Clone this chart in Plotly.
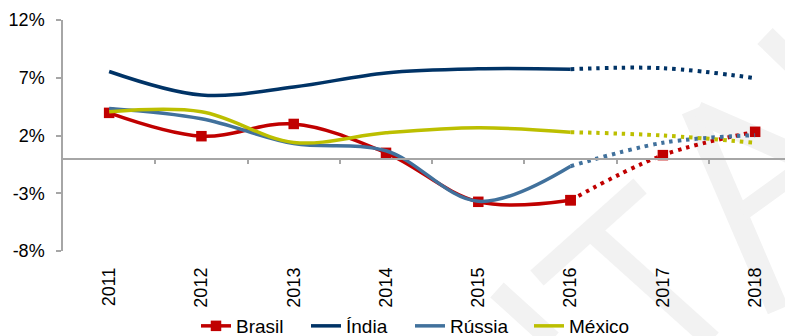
import plotly.graph_objects as go

years = ["2011", "2012", "2013", "2014", "2015", "2016", "2017", "2018"]
brasil = [3.96, 1.94, 3.0, 0.5, -3.74, -3.6, 0.3, 2.32]
india = [7.54, 5.5, 6.2, 7.42, 7.77, 7.74, 7.83, 6.96]
russia = [4.34, 3.45, 1.3, 0.68, -3.7, -0.66, 1.37, 2.03]
mexico = [4.05, 4.05, 1.4, 2.23, 2.67, 2.29, 2.0, 1.37]
ytick_vals = [-8, -3, 2, 7, 12]
ytick_text = ["-8%", "-3%", "2%", "7%", "12%"]
split = 5  # index of 2016: last actual year, later years are projections

# page is rendered with the default 8px body margin
OFF = 8
PAGE_W, PAGE_H = 793, 336
W, H = PAGE_W - OFF, PAGE_H - OFF
PLOT_L, PLOT_T, PLOT_B = 63, 20, 251  # plot area in page pixels
ML, MR, MT, MB = PLOT_L - OFF, 0, PLOT_T - OFF, PAGE_H - PLOT_B
PW, PH = W - ML - MR, H - MT - MB
YMIN, YMAX = -8, 12

FONT = "Liberation Sans, Arial, sans-serif"

series = [
    ("Brasil", brasil, "#C00000", True, "legend", 196),
    ("Índia", india, "#003366", False, "legend2", 306),
    ("Rússia", russia, "#41719C", False, "legend3", 410),
    ("México", mexico, "#BCBF00", False, "legend4", 529),
]

fig = go.Figure()
legends = {}
for name, vals, color, mk, lg, lx in series:
    mode = "lines+markers" if mk else "lines"
    fig.add_trace(go.Scatter(
        x=years[:split + 1], y=vals[:split + 1], name=name, mode=mode,
        line=dict(color=color, width=3.5, shape="spline", smoothing=1),
        marker=dict(symbol="square", size=10.5, color=color),
        legendgroup=name, showlegend=True, legend=lg,
    ))
    fig.add_trace(go.Scatter(
        x=years[split:], y=vals[split:], name=name, mode=mode,
        line=dict(color=color, width=4, shape="spline", smoothing=1, dash="3.5px,5px"),
        marker=dict(symbol="square", size=10.5, color=color),
        legendgroup=name, showlegend=False, legend=lg,
    ))
    legends[lg] = dict(
        orientation="h", x=(lx - PLOT_L) / PW, xanchor="left",
        y=(PLOT_B - 326) / PH, yanchor="middle",
        font=dict(size=19, family=FONT, color="#000000"), bgcolor="rgba(0,0,0,0)",
        itemwidth=30,
    )

# watermark strokes (decoration), given in page pixel coords
watermark = [
    ((537, 278), (640, 186), 20),
    ((592, 232), (712, 340), 20),
    ((497, 290), (552, 340), 20),
    ((692, 110), (778, 310), 22),
    ((697, 112), (800, 157), 22),
    ((742, 212), (800, 170), 18),
    ((765, 36), (800, 70), 22),
]
for (x0, y0), (x1, y1), w in watermark:
    fig.add_shape(
        type="line", xref="paper", yref="paper", layer="below",
        x0=(x0 - PLOT_L) / PW, x1=(x1 - PLOT_L) / PW,
        y0=(PLOT_B - y0) / PH, y1=(PLOT_B - y1) / PH,
        line=dict(color="#F2F2F2", width=w),
    )

n = len(years)
xr = [-0.5, n - 0.59]
zero_pos = (0 - YMIN) / (YMAX - YMIN)

fig.update_layout(
    width=W, height=H,
    margin=dict(l=ML, r=MR, t=MT, b=MB, autoexpand=False),
    paper_bgcolor="white", plot_bgcolor="rgba(0,0,0,0)",
    font=dict(family=FONT, size=18, color="#000000"),
    showlegend=True,
    xaxis=dict(
        type="category", range=xr, showline=False, showgrid=False, zeroline=False,
        ticks="", tickangle=-90, ticklabelstandoff=12,
        tickfont=dict(size=18, family=FONT),
    ),
    xaxis2=dict(
        overlaying="x", anchor="free", position=zero_pos, range=xr, type="linear",
        showline=True, linecolor="#A6A6A6", linewidth=1.5,
        ticks="outside", ticklen=5, tickcolor="#A6A6A6", tickwidth=1.5,
        tickvals=[i + 0.5 for i in range(n - 1)], showticklabels=False,
        showgrid=False, zeroline=False,
    ),
    yaxis=dict(
        range=[YMIN, YMAX], tickvals=ytick_vals, ticktext=ytick_text,
        showline=True, linecolor="#A6A6A6", linewidth=1.5,
        ticks="outside", ticklen=5, tickcolor="#A6A6A6", tickwidth=1.5,
        showgrid=False, zeroline=False, ticklabelstandoff=8,
        tickfont=dict(size=18, family=FONT),
    ),
    **legends,
)
# invisible trace to activate xaxis2
fig.add_trace(go.Scatter(x=[0], y=[0], xaxis="x2", mode="markers",
                         marker=dict(opacity=0), showlegend=False, hoverinfo="skip"))

fig.write_html("out.html")
